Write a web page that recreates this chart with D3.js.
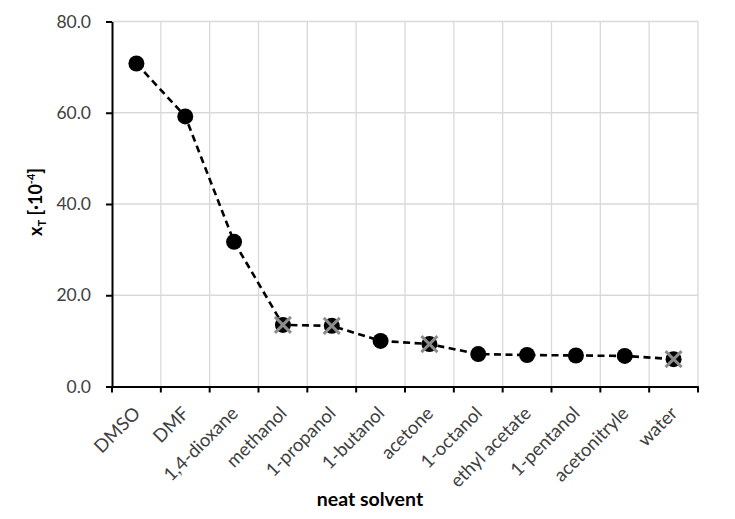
<!DOCTYPE html>
<html><head><meta charset="utf-8">
<script src="https://cdn.jsdelivr.net/npm/d3@7"></script>
<style>body{margin:0;background:#fff}svg{display:block}text{font-family:Lato,"Open Sans",sans-serif}</style>
</head><body>
<svg id="c" width="735" height="519"></svg>
<script>
const categories = ["DMSO","DMF","1,4-dioxane","methanol","1-propanol","1-butanol","acetone","1-octanol","ethyl acetate","1-pentanol","acetonitryle","water"];
const values = [70.8, 59.2, 31.7, 13.5, 13.3, 10.0, 9.3, 7.1, 6.9, 6.8, 6.7, 6.0];
const crossed = ["methanol","1-propanol","acetone","water"];
const yTicks = [0, 20, 40, 60, 80];

const svg = d3.select("#c");
const L = 112, R = 698, T = 21.5, B = 386.5;
const x = d3.scaleBand().domain(categories).range([L, R]).padding(0);
const y = d3.scaleLinear().domain([0, 80]).range([B, T]);

// horizontal grid
svg.append("g").selectAll("line").data(yTicks.filter(d=>d>0)).join("line")
  .attr("x1", L).attr("x2", R).attr("y1", d=>y(d)).attr("y2", d=>y(d))
  .attr("stroke", "#d9d9d9").attr("stroke-width", 1.3);
// vertical grid at band boundaries
svg.append("g").selectAll("line").data(categories).join("line")
  .attr("x1", d=>x(d)+x.bandwidth()).attr("x2", d=>x(d)+x.bandwidth())
  .attr("y1", T).attr("y2", B)
  .attr("stroke", "#d9d9d9").attr("stroke-width", 1.3);

// y axis
const yAx = svg.append("g").attr("transform", `translate(${L},0)`)
  .call(d3.axisLeft(y).tickValues(yTicks).tickFormat(d3.format(".1f")).tickSize(6).tickSizeOuter(0));
yAx.select(".domain").attr("stroke", "#000").attr("stroke-width", 2);
yAx.selectAll(".tick line").attr("stroke", "#000").attr("stroke-width", 2);
yAx.selectAll(".tick text").attr("font-size", 17.5).attr("fill", "#404040").attr("x", -21);

// x axis
const xAx = svg.append("g").attr("transform", `translate(0,${B})`)
  .call(d3.axisBottom(x).tickSize(0).tickSizeOuter(0));
xAx.select(".domain").attr("stroke", "#000").attr("stroke-width", 2);
xAx.selectAll(".tick line").remove();
// boundary ticks
svg.append("g").selectAll("line").data([0, ...categories.map((c,i)=>i+1)]).join("line")
  .attr("x1", i=>L + i*x.bandwidth()).attr("x2", i=>L + i*x.bandwidth())
  .attr("y1", B).attr("y2", B+6).attr("stroke", "#000").attr("stroke-width", 2);
xAx.selectAll(".tick text")
  .attr("font-size", 18.5).attr("fill", "#404040")
  .attr("text-anchor", "end").attr("dy", 0).attr("y", 0)
  .attr("transform", "translate(5,28) rotate(-45)");

// line
svg.append("path").datum(categories)
  .attr("fill", "none").attr("stroke", "#000").attr("stroke-width", 2.6)
  .attr("stroke-dasharray", "7,4.5")
  .attr("d", d3.line().x(d=>x(d)+x.bandwidth()/2).y((d,i)=>y(values[i])));

// markers
const pts = svg.append("g").selectAll("g").data(categories).join("g")
  .attr("transform", (d,i)=>`translate(${x(d)+x.bandwidth()/2},${y(values[i])})`);
pts.append("circle").attr("r", 8).attr("fill", "#000");
const cr = pts.filter(d=>crossed.includes(d));
cr.append("path").attr("d", "M-8,-8L8,8M-8,8L8,-8")
  .attr("stroke", "#8c8c8c").attr("stroke-width", 3);

// axis titles
svg.append("text").attr("x", 370).attr("y", 506).attr("text-anchor", "middle")
  .attr("font-size", 19.5).attr("font-weight", "bold").attr("fill", "#000").text("neat solvent");

const yt = svg.append("text").attr("transform", "translate(42,202) rotate(-90)")
  .attr("text-anchor", "middle").attr("font-size", 18).attr("font-weight", "bold").attr("fill", "#000");
yt.append("tspan").text("x");
yt.append("tspan").attr("font-size", 11).attr("dy", 4).text("T");
yt.append("tspan").attr("dy", -4).text(" [·10");
yt.append("tspan").attr("font-size", 11).attr("dy", -7).text("-4");
yt.append("tspan").attr("dy", 7).text("]");
</script>
</body></html>
